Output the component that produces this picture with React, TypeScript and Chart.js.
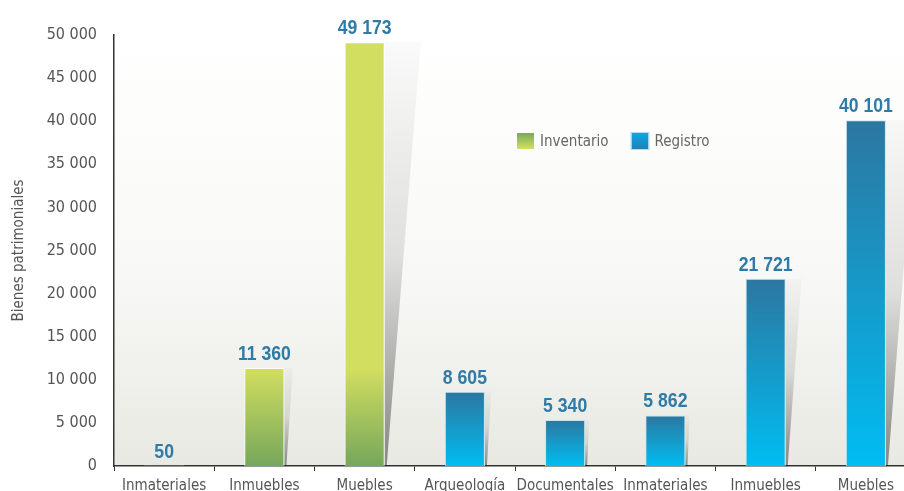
import React, { useEffect, useRef } from "react";
import { Chart, registerables } from "chart.js";

Chart.register(...registerables);

const categories = ["Inmateriales", "Inmuebles", "Muebles", "Arqueología", "Documentales", "Inmateriales", "Inmuebles", "Muebles"];
const inventario = [50, 11360, 49173, null, null, null, null, null];
const registro = [null, null, null, 8605, 5340, 5862, 21721, 40101];
const seriesLabels = ["Inventario", "Registro"];
const yMin = 0;
const yMax = 50000;
const yStep = 5000;
const yTitle = "Bienes patrimoniales";

const FONT = '"DejaVu Sans Condensed", "Liberation Sans Narrow", sans-serif';
const LABEL_FONT = '"Liberation Sans", Arial, sans-serif';

const fmt = (v: number) => String(v).replace(/\B(?=(\d{3})+(?!\d))/g, " ");

const greenFill = (ctx: any) => {
  const chart = ctx.chart;
  const y = chart.scales?.y;
  if (!y || !chart.chartArea) return "#b8d060";
  const g = chart.ctx.createLinearGradient(0, y.getPixelForValue(11300), 0, y.getPixelForValue(0));
  g.addColorStop(0, "#d2de60");
  g.addColorStop(1, "#76a75b");
  return g;
};

const blueFill = (ctx: any) => {
  const chart = ctx.chart;
  const y = chart.scales?.y;
  if (!y || !chart.chartArea || ctx.raw == null) return "#1a90c8";
  const top = y.getPixelForValue(ctx.raw);
  const base = y.getPixelForValue(0);
  const g = chart.ctx.createLinearGradient(0, top, 0, base);
  g.addColorStop(0, "#2c77a0");
  g.addColorStop(1, "#00bdf2");
  return g;
};

const backgroundPlugin = {
  id: "bgGrad",
  beforeDraw(chart: any) {
    const { ctx, chartArea: a } = chart;
    ctx.save();
    const g = ctx.createLinearGradient(0, a.top, 0, a.bottom);
    g.addColorStop(0, "#ffffff");
    g.addColorStop(0.55, "#f8f8f6");
    g.addColorStop(1, "#e9e9e3");
    ctx.fillStyle = g;
    ctx.fillRect(a.left, 0, a.right - a.left, a.bottom);
    ctx.restore();
  },
};

const shadowPlugin = {
  id: "barShadow",
  beforeDatasetsDraw(chart: any) {
    const { ctx } = chart;
    ctx.save();
    chart.data.datasets.forEach((ds: any, di: number) => {
      const meta = chart.getDatasetMeta(di);
      meta.data.forEach((el: any, i: number) => {
        const v = ds.data[i];
        if (v == null || !Number.isFinite(el.y)) return;
        const right = el.x + el.width / 2;
        const h = el.base - el.y;
        if (h < 3) return;
        const w = h * 0.085;
        const g = ctx.createLinearGradient(0, el.y, 0, el.base);
        g.addColorStop(0, "rgba(0,0,0,0.02)");
        g.addColorStop(0.5, "rgba(0,0,0,0.1)");
        g.addColorStop(1, "rgba(0,0,0,0.42)");
        ctx.fillStyle = g;
        ctx.beginPath();
        ctx.moveTo(right, el.y);
        ctx.lineTo(right + w, el.y);
        ctx.lineTo(right + 2, el.base);
        ctx.lineTo(right, el.base);
        ctx.closePath();
        ctx.fill();
      });
    });
    ctx.restore();
  },
};

const labelPlugin = {
  id: "valueLabels",
  afterDatasetsDraw(chart: any) {
    const { ctx } = chart;
    ctx.save();
    ctx.font = `bold 21px ${LABEL_FONT}`;
    ctx.fillStyle = "#2f7ba8";
    ctx.textAlign = "center";
    ctx.textBaseline = "alphabetic";
    const sx = 0.84;
    chart.data.datasets.forEach((ds: any, di: number) => {
      const meta = chart.getDatasetMeta(di);
      meta.data.forEach((el: any, i: number) => {
        const v = ds.data[i];
        if (v == null || !Number.isFinite(el.y)) return;
        ctx.save();
        ctx.translate(el.x, el.y - 8);
        ctx.scale(sx, 1);
        ctx.fillText(fmt(v), 0, 0);
        ctx.restore();
      });
    });
    ctx.restore();
  },
};

const legendPlugin = {
  id: "customLegend",
  afterDraw(chart: any) {
    const { ctx, chartArea: a } = chart;
    ctx.save();
    ctx.font = `15px ${FONT}`;
    ctx.textBaseline = "middle";
    ctx.textAlign = "left";
    let x = a.left + 403;
    const yTop = a.top + 98;
    const sw = 17;
    const sh = 16;
    chart.data.datasets.forEach((ds: any, di: number) => {
      const g = ctx.createLinearGradient(0, yTop, 0, yTop + sh);
      if (di === 0) {
        g.addColorStop(0, "#78a95a");
        g.addColorStop(1, "#d4e05f");
      } else {
        g.addColorStop(0, "#0aa8e2");
        g.addColorStop(1, "#2381b6");
      }
      ctx.fillStyle = g;
      ctx.fillRect(x, yTop, sw, sh);
      if (di === 1) {
        ctx.strokeStyle = "#b3dff2";
        ctx.lineWidth = 1;
        ctx.strokeRect(x - 0.5, yTop - 0.5, sw + 1, sh + 1);
      }
      ctx.fillStyle = "#666666";
      ctx.fillText(ds.label, x + sw + 6, yTop + sh / 2 + 1);
      x += sw + 6 + ctx.measureText(ds.label).width + 23;
    });
    ctx.restore();
  },
};

export default function App() {
  const ref = useRef<HTMLCanvasElement>(null);
  useEffect(() => {
    if (!ref.current) return;
    const chart = new Chart(ref.current, {
      type: "bar",
      data: {
        labels: categories,
        datasets: [
          { label: seriesLabels[0], data: inventario, backgroundColor: greenFill, borderColor: "rgba(255,255,255,0.85)", borderWidth: 1 },
          { label: seriesLabels[1], data: registro, backgroundColor: blueFill, borderColor: "#c3e6f4", borderWidth: 1 },
        ],
      } as any,
      options: {
        responsive: false,
        animation: false,
        devicePixelRatio: 1,
        layout: { padding: { left: 5, top: 35, right: 2, bottom: 0 } },
        datasets: { bar: { skipNull: true, barPercentage: 0.4, categoryPercentage: 1 } },
        plugins: { legend: { display: false }, tooltip: { enabled: false } },
        scales: {
          x: {
            grid: { display: true, drawOnChartArea: false, drawTicks: true, tickLength: 5, color: "#333", offset: true },
            border: { display: true, color: "#333", width: 1.5 },
            ticks: { color: "#555", font: { family: FONT, size: 15 }, padding: 6, maxRotation: 0, autoSkip: false },
            afterFit: (s: any) => { s.height = 34; },
          },
          y: {
            min: yMin,
            max: yMax,
            grid: { display: false, drawTicks: false },
            border: { display: true, color: "#333", width: 1.5 },
            ticks: { stepSize: yStep, color: "#555", font: { family: FONT, size: 16 }, padding: 17, callback: (v: any) => fmt(Number(v)) },
            title: { display: true, text: yTitle, color: "#555", font: { family: FONT, size: 15 }, padding: { top: 5, bottom: 0 } },
            afterFit: (s: any) => { s.width = 109; },
          },
        },
      } as any,
      plugins: [backgroundPlugin, shadowPlugin, labelPlugin, legendPlugin],
    });
    return () => chart.destroy();
  }, []);
  return (
    <div style={{ position: "fixed", left: 0, top: 0, width: 904, height: 491, overflow: "hidden", background: "#fff" }}>
      <canvas ref={ref} width={918} height={500} style={{ display: "block", width: 918, height: 500 }} />
    </div>
  );
}
